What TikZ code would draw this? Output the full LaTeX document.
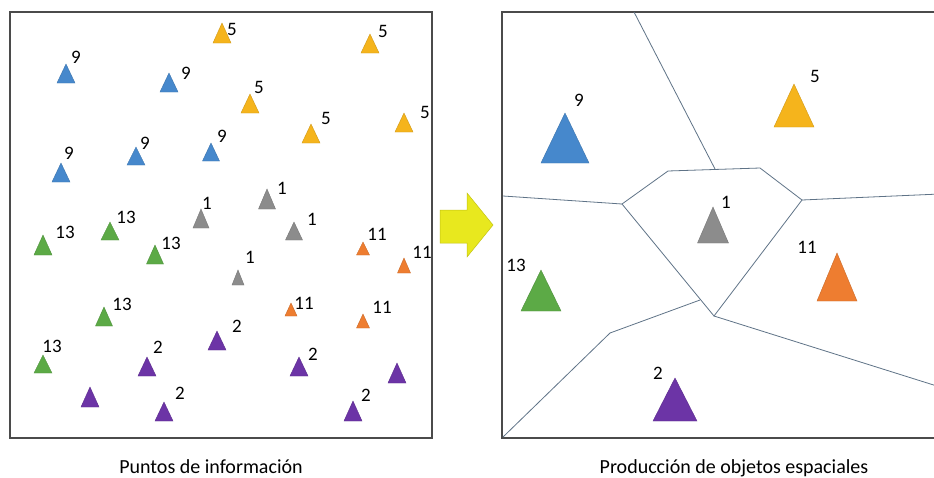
\documentclass[tikz,border=0pt]{standalone}
\usepackage{fontspec}
\setmainfont{Carlito}
\definecolor{cblue}{RGB}{70,136,204}
\definecolor{cgold}{RGB}{245,180,28}
\definecolor{cgray}{RGB}{140,140,140}
\definecolor{cgreen}{RGB}{92,170,70}
\definecolor{corange}{RGB}{238,125,48}
\definecolor{cpurple}{RGB}{108,52,166}
\definecolor{cframe}{RGB}{75,75,75}
\definecolor{cvor}{RGB}{95,115,135}
\definecolor{carrow}{RGB}{232,232,30}
\definecolor{carrowd}{RGB}{195,195,20}
\newcommand\trg[5]{\fill[#5,draw=#5!85!black,line width=0.4pt] ({#1-#3/2},#2) -- ({#1+#3/2},#2) -- (#1,{#2-#4}) -- cycle;}
\begin{document}
\begin{tikzpicture}[x=1pt,y=-1pt,
  lab/.style={font=\fontsize{19}{19}\selectfont,inner sep=0pt,text=black},
  captext/.style={font=\fontsize{20}{20}\selectfont,inner sep=0pt,anchor=base,text=black},
  frame/.style={draw=cframe,line width=1.3pt},
  vor/.style={draw=cvor,line width=0.8pt}]
\useasboundingbox (0,0) rectangle (934,477);
\fill[white] (0,0) rectangle (934,477);
\clip (0,0) rectangle (934,477);
% left panel
\draw[frame] (10,12) rectangle (432,438);
\trg{222}{43}{18}{20}{cgold}   \node[lab] (l1) at (232,29) {5};
\trg{370}{53}{18}{19}{cgold}   \node[lab] (l2) at (383,31) {5};
\trg{66}{83}{18}{19}{cblue}    \node[lab] (l3) at (76,57) {9};
\trg{169}{92}{18}{19}{cblue}   \node[lab] (l4) at (186,73) {9};
\trg{250}{113}{18}{19}{cgold}  \node[lab] (l5) at (259,87) {5};
\trg{311}{143}{18}{19}{cgold}  \node[lab] (l6) at (326,118) {5};
\trg{404}{132}{18}{19}{cgold}  \node[lab] (l7) at (425,112) {5};
\trg{211}{161}{17}{18}{cblue}  \node[lab] (l8) at (222,136) {9};
\trg{136}{165}{18}{18}{cblue}  \node[lab] (l9) at (145,143) {9};
\trg{61}{182}{18}{19}{cblue}   \node[lab] (l10) at (69,153) {9};
\trg{267}{209}{17}{20}{cgray}  \node[lab] (l11) at (282,188) {1};
\trg{201}{228}{16}{19}{cgray}  \node[lab] (l12) at (207,203) {1};
\trg{294}{240}{17}{18}{cgray}  \node[lab] (l13) at (312,219) {1};
\trg{110}{240}{18}{18}{cgreen} \node[lab] (l14) at (126,217) {13};
\trg{43}{255}{18}{20}{cgreen}  \node[lab] (l15) at (65,232) {13};
\trg{155}{264}{17}{19}{cgreen} \node[lab] (l16) at (171,243) {13};
\trg{238}{285}{12}{15}{cgray}  \node[lab] (l17) at (250,257) {1};
\trg{363}{255}{13}{13}{corange} \node[lab] (l18) at (377,234) {11};
\trg{404}{273}{13}{15}{corange} \node[lab] (l19) at (422,252) {11};
\trg{104}{326}{17}{19}{cgreen} \node[lab] (l20) at (122,304) {13};
\trg{291}{316}{12}{13}{corange} \node[lab] (l21) at (304,303) {11};
\trg{363}{328}{13}{14}{corange} \node[lab] (l22) at (382,307) {11};
\trg{217}{350}{18}{19}{cpurple} \node[lab] (l23) at (237,326) {2};
\trg{147}{376}{18}{19}{cpurple} \node[lab] (l24) at (158,347) {2};
\trg{43}{373}{18}{18}{cgreen}  \node[lab] (l25) at (52,346) {13};
\trg{299}{376}{18}{19}{cpurple} \node[lab] (l26) at (313,354) {2};
\trg{397}{383}{18}{20}{cpurple}
\trg{90}{407}{18}{20}{cpurple}
\trg{164}{421}{18}{19}{cpurple} \node[lab] (l29) at (180,393) {2};
\trg{353}{421}{18}{20}{cpurple} \node[lab] (l30) at (366,395) {2};
\node[captext] (capl) at (211,473) {Puntos de información};
% arrow
\filldraw[fill=carrow,draw=carrowd,line width=0.5pt] (440,210) -- (467,210) -- (467,193) -- (493,225) -- (467,257) -- (467,243) -- (440,243) -- cycle;
% right panel
\draw[frame] (940,12) -- (502,12) -- (502,438) -- (940,438);
\coordinate (t0) at (634,12);
\coordinate (t1) at (715,169);
\coordinate (h1) at (622,204);
\coordinate (h2) at (668,171);
\coordinate (h3) at (760,168);
\coordinate (h4) at (802,200);
\coordinate (h5) at (714,316);
\coordinate (hl) at (700,300);
\coordinate (el) at (503,196);
\coordinate (er) at (940,194);
\coordinate (ebr) at (940,387);
\coordinate (m1) at (610,333);
\coordinate (ebl) at (503,437);
\draw[vor] (t0) -- (t1);
\draw[vor] (h1) -- (h2) -- (h3) -- (h4) -- (h5) -- cycle;
\draw[vor] (h1) -- (el);
\draw[vor] (h4) -- (er);
\draw[vor] (h5) -- (ebr);
\draw[vor] (hl) -- (m1) -- (ebl);
\trg{565}{163}{48}{50}{cblue}   \node[lab] (r1) at (579,100) {9};
\trg{794}{127}{40}{43}{cgold}   \node[lab] (r2) at (815,76) {5};
\trg{713}{243}{31}{36}{cgray}   \node[lab] (r3) at (726,202) {1};
\trg{837}{301}{40}{48}{corange} \node[lab] (r4) at (807,247) {11};
\trg{541}{311}{40}{41}{cgreen}  \node[lab] (r5) at (516,265) {13};
\trg{675}{421}{44}{43}{cpurple} \node[lab] (r6) at (658,373) {2};
\node[captext] (capr) at (734,473) {Producción de objetos espaciales};
\end{tikzpicture}
\end{document}
